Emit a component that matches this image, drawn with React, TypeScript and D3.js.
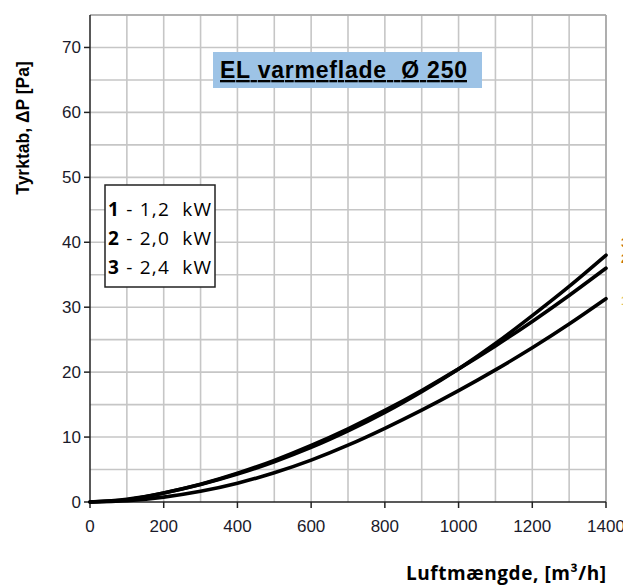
import React from "react";
import * as d3 from "d3";

const flow = [0, 100, 200, 300, 400, 500, 600, 700, 800, 900, 1000, 1100, 1200, 1300, 1400];
const curve1 = [0, 0.2, 0.75, 1.65, 2.9, 4.5, 6.45, 8.75, 11.35, 14.15, 17.15, 20.35, 23.75, 27.4, 31.3];
const curve2 = [0, 0.43, 1.39, 2.73, 4.42, 6.42, 8.72, 11.28, 14.11, 17.18, 20.5, 24.04, 27.81, 31.8, 36.0];
const curve3 = [0, 0.35, 1.4, 2.7, 4.3, 6.2, 8.4, 10.95, 13.8, 17.0, 20.5, 24.4, 28.7, 33.2, 38.0];
const seriesNames = ["1", "2", "3"];
const legendNums = ["1", "2", "3"];
const legendTexts = [" - 1,2  kW", " - 2,0  kW", " - 2,4  kW"];
const xTicks = [0, 200, 400, 600, 800, 1000, 1200, 1400];
const yTicks = [0, 10, 20, 30, 40, 50, 60, 70];
const xGrid = d3.range(100, 1401, 100);
const yGrid = d3.range(5, 76, 5);
const titleText = "EL varmeflade  Ø 250";
const yTitle = "Tyrktab, ΔP [Pa]";
const xTitle = "Luftmængde, [m³/h]";

export default function App() {
  const W = 623, H = 586;
  const left = 90, right = 606, top = 15, bottom = 502;
  const x = d3.scaleLinear().domain([0, 1400]).range([left, right]);
  const y = d3.scaleLinear().domain([0, 75]).range([bottom, top]);
  const line = d3
    .line<number>()
    .x((_, i) => x(flow[i]))
    .y((d) => y(d))
    .curve(d3.curveNatural);
  const series = [curve1, curve2, curve3];
  const tickFont = "'Liberation Sans', Arial, sans-serif";
  const calibri = "'Open Sans', Lato, sans-serif";
  const tickColor = "#1a1a2a";
  const pre = { whiteSpace: "pre" as const };

  return (
    <svg
      width={W}
      height={H}
      style={{ position: "absolute", left: 0, top: 0, background: "#fff" }}
    >
      <rect x={0} y={0} width={W} height={H} fill="#fff" />
      {xGrid.map((v) => (
        <line key={"gx" + v} x1={x(v)} x2={x(v)} y1={top} y2={bottom} stroke="#c6c6c6" strokeWidth={1.6} />
      ))}
      {yGrid.map((v) => (
        <line key={"gy" + v} x1={left} x2={right} y1={y(v)} y2={y(v)} stroke="#c6c6c6" strokeWidth={1.6} />
      ))}
      <line x1={left} x2={right} y1={top} y2={top} stroke="#a6a6a6" strokeWidth={1.6} />
      <line x1={right} x2={right} y1={top} y2={bottom} stroke="#a6a6a6" strokeWidth={1.6} />
      <line x1={left} x2={left} y1={top} y2={bottom} stroke="#222" strokeWidth={1.5} />
      <line x1={left} x2={right} y1={bottom} y2={bottom} stroke="#222" strokeWidth={1.5} />
      {yTicks.map((v) => (
        <g key={"yt" + v}>
          <line x1={left - 6} x2={left} y1={y(v)} y2={y(v)} stroke="#222" strokeWidth={1.5} />
          <text x={81} y={y(v) + 6} textAnchor="end" fontFamily={tickFont} fontSize={17} fill={tickColor}>
            {v}
          </text>
        </g>
      ))}
      {xTicks.map((v) => (
        <g key={"xt" + v}>
          <line x1={x(v)} x2={x(v)} y1={bottom} y2={bottom + 6} stroke="#222" strokeWidth={1.5} />
          <text x={x(v)} y={532} textAnchor="middle" fontFamily={tickFont} fontSize={17} fill={tickColor}>
            {v}
          </text>
        </g>
      ))}
      {series.map((s, i) => (
        <path key={"c" + i} d={line(s) || ""} fill="none" stroke="#000" strokeWidth={3.6} strokeLinecap="round" />
      ))}
      <text x={621} y={247} fontFamily={tickFont} fontWeight="bold" fontSize={13} fill="#c07010">{seriesNames[2]}</text>
      <text x={621} y={263} fontFamily={tickFont} fontWeight="bold" fontSize={13} fill="#c07010">{seriesNames[1]}</text>
      <text x={621} y={305} fontFamily={tickFont} fontWeight="bold" fontSize={13} fill="#e0c060">{seriesNames[0]}</text>
      <rect x={213} y={52} width={269} height={36} fill="#9dc3e6" />
      <text
        x={220}
        y={78}
        fontFamily={tickFont}
        fontWeight="bold"
        fontSize={23}
        fill="#000"
        textDecoration="underline"
        textLength={247}
        lengthAdjust="spacing"
        style={pre}
      >
        {titleText}
      </text>
      <rect x={105} y={185} width={110} height={102} fill="#fff" stroke="#222" strokeWidth={1.5} />
      {legendNums.map((n, i) => (
        <text
          key={"lg" + i}
          x={108}
          y={216 + i * 29}
          fontFamily={calibri}
          fontSize={19}
          fill="#000"
          textLength={103}
          lengthAdjust="spacing"
          style={pre}
        >
          <tspan fontWeight="bold">{n}</tspan>
          <tspan>{legendTexts[i]}</tspan>
        </text>
      ))}
      <text
        transform="translate(29,128) rotate(-90)"
        textAnchor="middle"
        fontFamily={tickFont}
        fontWeight="bold"
        fontSize={17.5}
        fill="#000"
      >
        {yTitle}
      </text>
      <text
        x={606}
        y={580}
        textAnchor="end"
        fontFamily={calibri}
        fontWeight="bold"
        fontSize={19}
        fill="#000"
        textLength={200}
        lengthAdjust="spacing"
      >
        {xTitle}
      </text>
    </svg>
  );
}
